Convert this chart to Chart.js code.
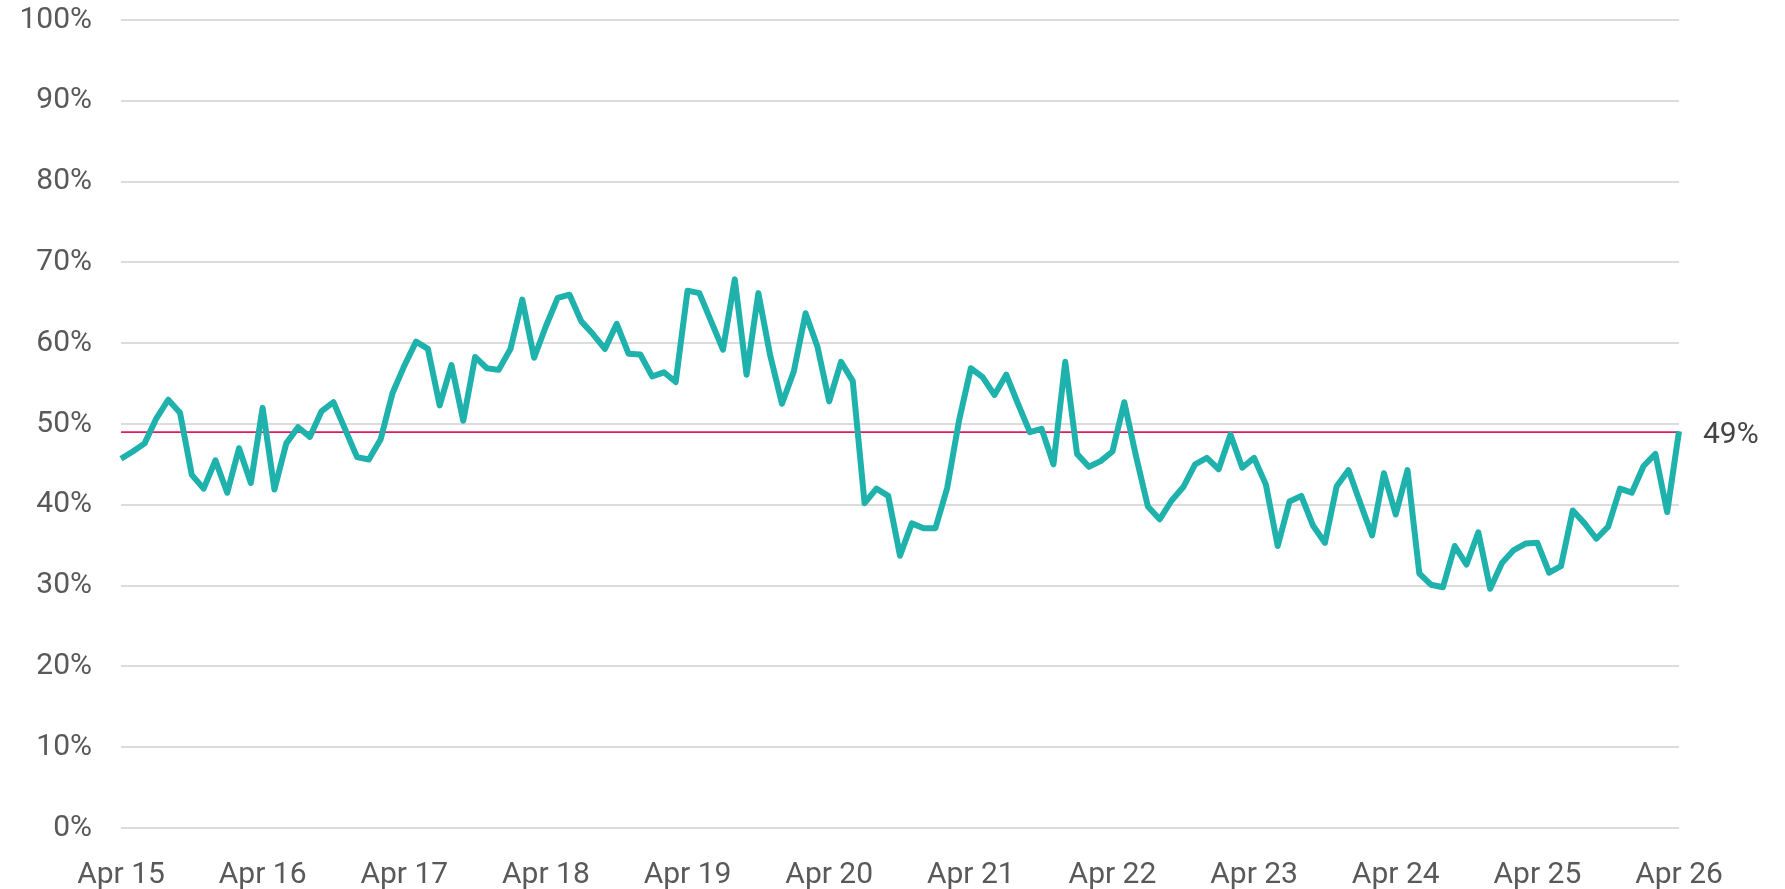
<!DOCTYPE html>
<html>
<head>
<meta charset="utf-8">
<script src="https://cdn.jsdelivr.net/npm/chart.js@4/dist/chart.umd.min.js"></script>
<style>
  html, body { margin: 0; padding: 0; background: #ffffff; }
  #wrap { width: 1785px; height: 889px; position: relative; }
</style>
</head>
<body>
<div id="wrap"><canvas id="chart" width="1785" height="889"></canvas></div>
<script>
// ---- Data ----
const monthNames = ['Jan','Feb','Mar','Apr','May','Jun','Jul','Aug','Sep','Oct','Nov','Dec'];
const startMonthIndex = 3;   // April
const startYear = 2015;
const shareValues = [
  45.7, 46.6, 47.6, 50.7, 53.0, 51.4, 43.7, 42.0, 45.5, 41.5, 47.0, 42.7,
  52.0, 41.9, 47.6, 49.6, 48.4, 51.6, 52.7, 49.3, 45.9, 45.6, 48.1, 53.8,
  57.2, 60.2, 59.3, 52.3, 57.3, 50.4, 58.3, 56.9, 56.7, 59.3, 65.4, 58.2,
  62.1, 65.6, 66.0, 62.7, 61.1, 59.3, 62.4, 58.7, 58.6, 55.9, 56.4, 55.2,
  66.5, 66.2, 62.7, 59.2, 67.9, 56.1, 66.2, 58.5, 52.5, 56.5, 63.7, 59.6,
  52.8, 57.7, 55.3, 40.2, 42.0, 41.1, 33.7, 37.7, 37.1, 37.1, 42.1, 50.4,
  56.9, 55.8, 53.6, 56.1, 52.5, 49.0, 49.4, 45.0, 57.7, 46.3, 44.7, 45.4,
  46.6, 52.7, 46.0, 39.8, 38.2, 40.5, 42.2, 45.0, 45.8, 44.4, 48.7, 44.6,
  45.8, 42.5, 34.9, 40.4, 41.1, 37.4, 35.3, 42.3, 44.3, 40.2, 36.2, 43.9,
  38.8, 44.3, 31.5, 30.1, 29.8, 34.9, 32.6, 36.6, 29.6, 32.8, 34.4, 35.2,
  35.3, 31.6, 32.4, 39.3, 37.7, 35.8, 37.3, 42.0, 41.5, 44.8, 46.3, 39.1,
  49.1
];
const referenceValue = 49;
const yTickValues = [0, 10, 20, 30, 40, 50, 60, 70, 80, 90, 100];

// category labels (one per month)
const categories = shareValues.map((_, i) => {
  const m = (startMonthIndex + i) % 12;
  const y = startYear + Math.floor((startMonthIndex + i) / 12);
  return monthNames[m] + ' ' + String(y % 100).padStart(2, '0');
});

// ---- Styles ----
const FONT = 'Roboto, "Liberation Sans", sans-serif';
const TEXT_COLOR = '#595959';
const LINE_COLOR = '#1fb1ac';
const REF_COLOR = '#e5195f';

const refLinePlugin = {
  id: 'refLine',
  beforeDatasetsDraw(chart) {
    const { ctx, chartArea, scales } = chart;
    const y = scales.y.getPixelForValue(referenceValue);
    ctx.save();
    ctx.strokeStyle = REF_COLOR;
    ctx.lineWidth = 1.6;
    ctx.beginPath();
    ctx.moveTo(chartArea.left, y);
    ctx.lineTo(chartArea.right, y);
    ctx.stroke();
    ctx.restore();
  }
};

const lastLabelPlugin = {
  id: 'lastLabel',
  afterDatasetsDraw(chart) {
    const meta = chart.getDatasetMeta(0);
    const pt = meta.data[meta.data.length - 1];
    const v = shareValues[shareValues.length - 1];
    const { ctx } = chart;
    ctx.save();
    ctx.font = '400 30px ' + FONT;
    ctx.fillStyle = '#444444';
    ctx.textAlign = 'left';
    ctx.textBaseline = 'middle';
    ctx.fillText(Math.round(v) + '%', pt.x + 24, pt.y + 4);
    ctx.restore();
  }
};

new Chart(document.getElementById('chart'), {
  type: 'line',
  data: {
    labels: categories,
    datasets: [{
      data: shareValues,
      borderColor: LINE_COLOR,
      borderWidth: 6,
      pointRadius: 0,
      pointHoverRadius: 0,
      tension: 0,
      fill: false,
      borderJoinStyle: 'round'
    }]
  },
  options: {
    responsive: false,
    animation: false,
    layout: { padding: { top: 20, right: 106, bottom: 0, left: 0 } },
    plugins: { legend: { display: false }, tooltip: { enabled: false } },
    scales: {
      x: {
        grid: { display: false, drawTicks: false },
        border: { display: false },
        afterFit(scale) { scale.height = 61; },
        ticks: {
          autoSkip: false,
          maxRotation: 0,
          minRotation: 0,
          padding: 29,
          color: TEXT_COLOR,
          font: { family: FONT, size: 30 },
          callback(value, index) { return index % 12 === 0 ? categories[index] : null; }
        }
      },
      y: {
        min: 0,
        max: 100,
        afterBuildTicks(scale) { scale.ticks = yTickValues.map(v => ({ value: v })); },
        afterFit(scale) { scale.width = 121; scale.paddingTop = 0; scale.paddingBottom = 0; },
        grid: { color: '#dcdcdc', lineWidth: 2, drawTicks: false },
        border: { display: false },
        ticks: {
          padding: 29,
          color: TEXT_COLOR,
          font: { family: FONT, size: 30 },
          callback(v) { return v + '%'; }
        }
      }
    }
  },
  plugins: [refLinePlugin, lastLabelPlugin]
});
</script>
</body>
</html>
